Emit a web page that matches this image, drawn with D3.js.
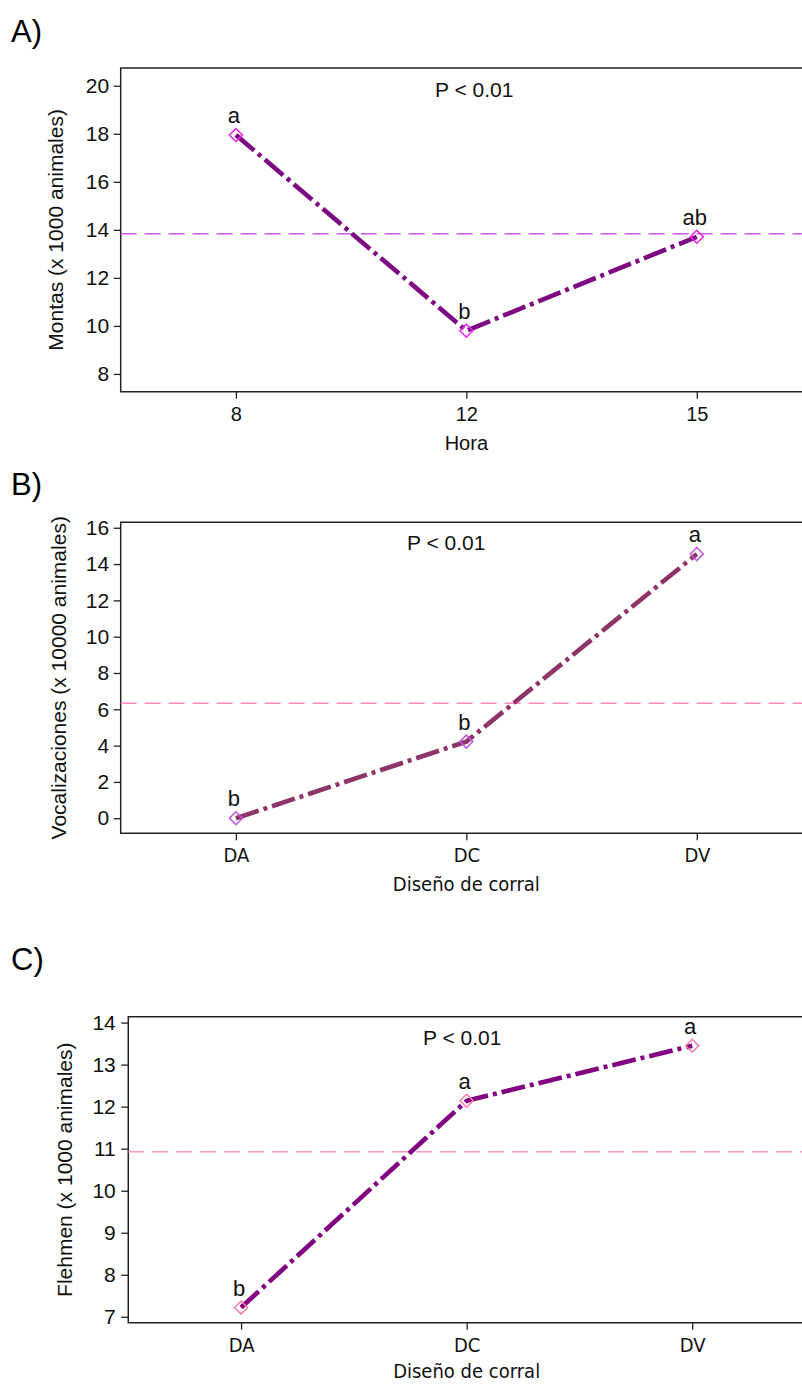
<!DOCTYPE html>
<html>
<head>
<meta charset="utf-8">
<script src="https://cdn.jsdelivr.net/npm/d3@7"></script>
<style>
  body { margin: 0; background: #fff; }
  svg { display: block; }
  .tick line { stroke: #222; stroke-width: 1.3; }
</style>
</head>
<body>
<div id="chart"></div>
<script>
// panel A - Montas by hour
var horaCats = ["8", "12", "15"];
var montasVals = [17.95, 9.8, 13.71];
var montasLetters = ["a", "b", "ab"];
var montasMean = 13.84;
var montasTicks = [8, 10, 12, 14, 16, 18, 20];

// panel B - Vocalizaciones by pen design
var corralCats = ["DA", "DC", "DV"];
var vocalVals = [0.0, 4.22, 14.55];
var vocalLetters = ["b", "b", "a"];
var vocalMean = 6.33;
var vocalTicks = [0, 2, 4, 6, 8, 10, 12, 14, 16];

// panel C - Flehmen by pen design
var flehmenVals = [7.22, 12.14, 13.45];
var flehmenLetters = ["b", "a", "a"];
var flehmenMean = 10.93;
var flehmenTicks = [7, 8, 9, 10, 11, 12, 13, 14];

var W = 802, H = 1384;
var arial = "'Liberation Sans', Arial, sans-serif";
var tahoma = "'DejaVu Sans Condensed', 'DejaVu Sans', sans-serif";

var svg = d3.select("#chart").append("svg")
    .attr("width", W)
    .attr("height", H);

var panels = [
    {
        tag: "A)", tagY: 42,
        cats: horaCats, vals: montasVals, letters: montasLetters, mean: montasMean,
        ticks: montasTicks, domain: [7.26, 20.74],
        left: 120.7, right: 812, top: 68, bottom: 391.7,
        ylabel: "Montas (x 1000 animales)", ylabelX: 62.5,
        xlabel: "Hora", xFont: arial, xlabelDy: 58,
        pX: 435, pY: 97,
        line: "#7d0a80", marker: "#f020f0", meanColor: "#c55cdc", tickPad: 4.5
    },
    {
        tag: "B)", tagY: 495,
        cats: corralCats, vals: vocalVals, letters: vocalLetters, mean: vocalMean,
        ticks: vocalTicks, domain: [-0.83, 16.3],
        left: 120.7, right: 812, top: 522.3, bottom: 833.3,
        ylabel: "Vocalizaciones (x 10000 animales)", ylabelX: 66,
        xlabel: "Diseño de corral", xFont: tahoma, xlabelDy: 58,
        pX: 407, pY: 550,
        line: "#8e3468", marker: "#c455e0", meanColor: "#ff88bc", tickPad: 4.5
    },
    {
        tag: "C)", tagY: 970,
        cats: corralCats, vals: flehmenVals, letters: flehmenLetters, mean: flehmenMean,
        ticks: flehmenTicks, domain: [6.86, 14.14],
        left: 128.3, right: 805, top: 1016.7, bottom: 1322.7,
        ylabel: "Flehmen (x 1000 animales)", ylabelX: 71.5,
        xlabel: "Diseño de corral", xFont: tahoma, xlabelDy: 55,
        pX: 423, pY: 1045,
        line: "#800080", marker: "#ff78a8", meanColor: "#ff96c2", tickPad: 5.5
    }
];

function drawPanel(p) {
    var x = d3.scalePoint()
        .domain(p.cats)
        .range([p.left, p.right])
        .padding(0.5);
    var y = d3.scaleLinear()
        .domain(p.domain)
        .range([p.bottom, p.top]);

    var g = svg.append("g");

    // panel tag
    svg.append("text")
        .attr("x", 11)
        .attr("y", p.tagY)
        .style("font-family", arial)
        .style("font-size", "31px")
        .text(p.tag);

    // y axis
    var yAxis = d3.axisLeft(y).tickValues(p.ticks).tickSize(7).tickPadding(p.tickPad);
    var ya = g.append("g")
        .attr("transform", "translate(" + p.left + ",0)")
        .call(yAxis);
    ya.select(".domain").remove();
    ya.selectAll("text")
        .style("font-family", arial)
        .style("font-size", "21px")
        .attr("fill", "#111");

    // x axis
    var xAxis = d3.axisBottom(x).tickSize(7).tickPadding(8);
    var xa = g.append("g")
        .attr("transform", "translate(0," + p.bottom + ")")
        .call(xAxis);
    xa.select(".domain").remove();
    xa.selectAll("text")
        .style("font-family", p.xFont)
        .style("font-size", "20px")
        .attr("fill", "#111");

    // frame (right edge runs off the page)
    g.append("path")
        .attr("d", "M" + p.right + "," + p.top + "H" + p.left + "V" + p.bottom + "H" + p.right)
        .attr("fill", "none")
        .attr("stroke", "#222")
        .attr("stroke-width", 1.5);

    // axis titles
    g.append("text")
        .attr("transform", "translate(" + p.ylabelX + "," + ((p.top + p.bottom) / 2) + ") rotate(-90)")
        .attr("text-anchor", "middle")
        .style("font-family", arial)
        .style("font-size", "21px")
        .attr("fill", "#111")
        .text(p.ylabel);

    g.append("text")
        .attr("x", x(p.cats[1]))
        .attr("y", p.bottom + p.xlabelDy)
        .attr("text-anchor", "middle")
        .style("font-family", p.xFont)
        .style("font-size", "20px")
        .attr("fill", "#111")
        .text(p.xlabel);

    // mean reference line
    g.append("line")
        .attr("x1", p.left)
        .attr("x2", p.right)
        .attr("y1", y(p.mean))
        .attr("y2", y(p.mean))
        .attr("stroke", p.meanColor)
        .attr("stroke-width", 1.5)
        .attr("stroke-dasharray", "16,8");

    g.append("text")
        .attr("x", p.pX)
        .attr("y", p.pY)
        .style("font-family", arial)
        .style("font-size", "21px")
        .attr("fill", "#111")
        .text("P < 0.01");

    var pts = p.cats.map(function (c, i) {
        return { cat: c, val: p.vals[i], letter: p.letters[i] };
    });

    var line = d3.line()
        .x(function (d) { return x(d.cat); })
        .y(function (d) { return y(d.val); });

    g.append("path")
        .datum(pts)
        .attr("d", line)
        .attr("fill", "none")
        .attr("stroke", p.line)
        .attr("stroke-width", 4.6)
        .attr("stroke-dasharray", "24,5,4,5");

    g.selectAll(".mk")
        .data(pts)
        .enter()
        .append("path")
        .attr("class", "mk")
        .attr("transform", function (d) { return "translate(" + x(d.cat) + "," + y(d.val) + ")"; })
        .attr("d", "M0,-6.5L6.5,0L0,6.5L-6.5,0Z")
        .attr("fill", "none")
        .attr("stroke", p.marker)
        .attr("stroke-width", 1.5);

    g.selectAll(".lt")
        .data(pts)
        .enter()
        .append("text")
        .attr("class", "lt")
        .attr("x", function (d) { return x(d.cat) - 2; })
        .attr("y", function (d) { return y(d.val) - 12; })
        .attr("text-anchor", "middle")
        .style("font-family", arial)
        .style("font-size", "22px")
        .attr("fill", "#111")
        .text(function (d) { return d.letter; });
}

panels.forEach(drawPanel);
</script>
</body>
</html>
